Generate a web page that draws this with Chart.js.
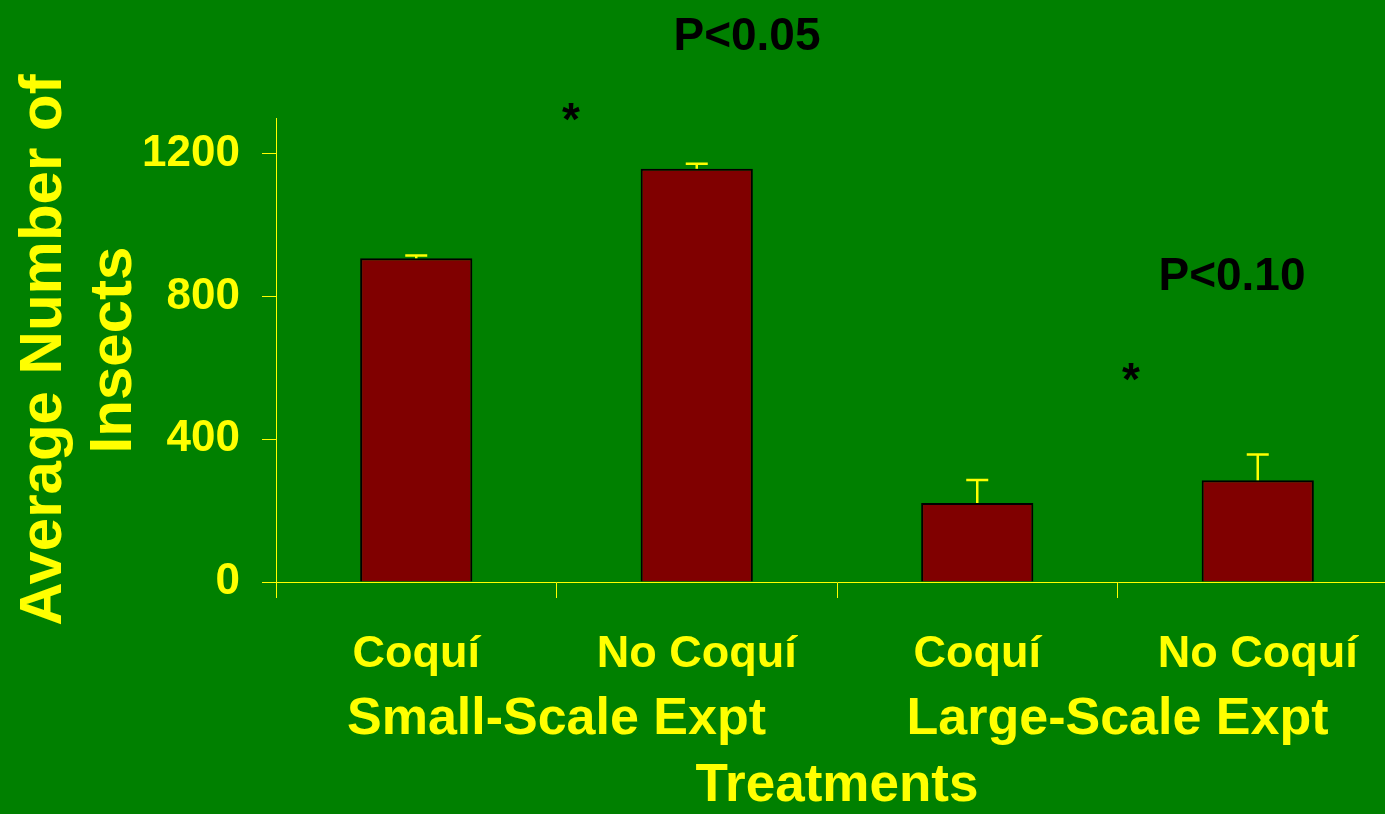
<!DOCTYPE html>
<html>
<head>
<meta charset="utf-8">
<script src="https://cdn.jsdelivr.net/npm/chart.js@4.4.0/dist/chart.umd.min.js"></script>
<style>
  html, body { margin: 0; padding: 0; background: #008000; overflow: hidden; }
  #wrap { width: 1400px; height: 814px; }
</style>
</head>
<body>
<div id="wrap"><canvas id="insects" width="1400" height="814"></canvas></div>
<script>
// categories and values
var treatments = ["Coquí", "No Coquí", "Coquí", "No Coquí"];
var experiments = ["Small-Scale Expt", "Large-Scale Expt"];
var meanInsects = [907, 1158, 221, 285];
var upperError = [915, 1172, 286, 357];
var yTicks = [0, 400, 800, 1200];

var yellow = "#ffff00";
var fontFam = "'Liberation Sans', Arial, sans-serif";

// error bars (upper only), drawn from the y scale
var errorBars = {
    id: "errorBars",
    afterDatasetsDraw: function(chart){
        var ctx = chart.ctx;
        var yScale = chart.scales.y;
        var meta = chart.getDatasetMeta(0);
        ctx.save();
        ctx.strokeStyle = yellow;
        ctx.lineWidth = 2.5;
        meta.data.forEach(function(bar, i){
            var top = yScale.getPixelForValue(upperError[i]);
            ctx.beginPath();
            ctx.moveTo(bar.x, bar.y);
            ctx.lineTo(bar.x, top);
            ctx.moveTo(bar.x - 11, top);
            ctx.lineTo(bar.x + 11, top);
            ctx.stroke();
        });
        ctx.restore();
    }
};

// significance notes
var notes = {
    id: "notes",
    afterDraw: function(chart){
        var ctx = chart.ctx;
        ctx.save();
        ctx.fillStyle = "#000000";
        ctx.font = "bold 46px " + fontFam;
        ctx.textAlign = "center";
        ctx.textBaseline = "alphabetic";
        ctx.fillText("P<0.05", 747, 50);
        ctx.fillText("P<0.10", 1232, 290);
        ctx.fillText("*", 571, 135);
        ctx.fillText("*", 1131, 395);
        ctx.restore();
    }
};

var chart = new Chart(document.getElementById("insects"), {
    type: "bar",
    data: {
        labels: treatments,
        datasets: [{
            data: meanInsects,
            backgroundColor: "#800000",
            borderColor: "#000000",
            borderWidth: 2,
            barPercentage: 0.4,
            categoryPercentage: 1.0
        }]
    },
    options: {
        responsive: false,
        animation: false,
        events: [],
        layout: { padding: { top: 118, right: 2, left: 0, bottom: 0 } },
        plugins: {
            legend: { display: false },
            tooltip: { enabled: false }
        },
        scales: {
            x: {
                position: "bottom",
                weight: 1,
                grid: { display: true, drawOnChartArea: false, color: yellow, tickLength: 16, offset: true },
                border: { color: yellow, width: 1 },
                ticks: {
                    color: yellow,
                    padding: 30,
                    maxRotation: 0,
                    autoSkip: false,
                    font: { family: fontFam, size: 45, weight: "bold", lineHeight: 1.2 }
                },
                afterFit: function(s){ s.height = 100; }
            },
            x2: {
                type: "category",
                position: "bottom",
                weight: 2,
                labels: experiments,
                grid: { display: false, drawTicks: false },
                border: { display: false },
                ticks: {
                    color: yellow,
                    padding: 6,
                    maxRotation: 0,
                    autoSkip: false,
                    font: { family: fontFam, size: 52, weight: "bold", lineHeight: 1.2 }
                },
                title: {
                    display: true,
                    text: "Treatments",
                    color: yellow,
                    padding: { top: 0, bottom: 1.5 },
                    font: { family: fontFam, size: 53, weight: "bold", lineHeight: 1.0 }
                },
                afterFit: function(s){ s.height = 132; }
            },
            y: {
                min: 0,
                max: 1300,
                grid: { display: true, drawOnChartArea: false, color: yellow, tickLength: 14 },
                border: { color: yellow, width: 1 },
                ticks: {
                    autoSkip: false,
                    color: yellow,
                    padding: 22,
                    font: { family: fontFam, size: 44, weight: "bold" },
                    callback: function(v){ return String(v); }
                },
                afterBuildTicks: function(s){
                    s.ticks = yTicks.map(function(v){ return { value: v }; });
                },
                title: {
                    display: true,
                    text: ["Average Number of", "Insects"],
                    color: yellow,
                    padding: { top: 9, bottom: 0 },
                    font: { family: fontFam, size: 60, weight: "bold", lineHeight: 1.17 }
                },
                afterFit: function(s){ s.width = 276; }
            }
        }
    },
    plugins: [errorBars, notes]
});
</script>
</body>
</html>
